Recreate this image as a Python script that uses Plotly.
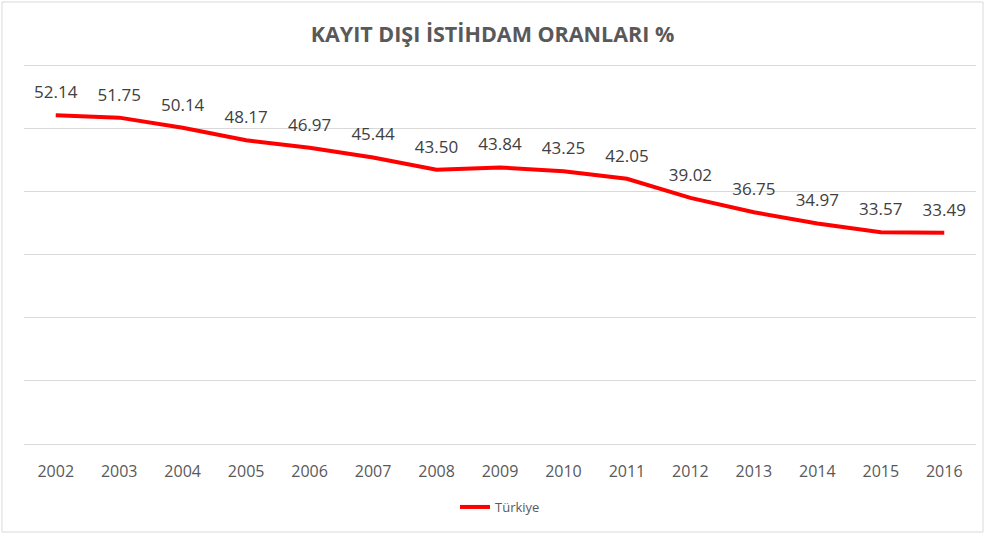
import plotly.graph_objects as go

years = ["2002", "2003", "2004", "2005", "2006", "2007", "2008", "2009",
         "2010", "2011", "2012", "2013", "2014", "2015", "2016"]
turkiye = [52.14, 51.75, 50.14, 48.17, 46.97, 45.44, 43.50, 43.84,
           43.25, 42.05, 39.02, 36.75, 34.97, 33.57, 33.49]
labels = [f"{v:.2f}" for v in turkiye]

W, H = 985, 535
ymax = 62
ml, mr, mt, mb = 24, 9, 53, 91

fig = go.Figure()
fig.add_trace(go.Scatter(
    x=years, y=turkiye, mode="lines", name="Türkiye",
    line=dict(color="#FF0000", width=4),
))
fig.add_trace(go.Scatter(
    x=years, y=turkiye, mode="markers+text", showlegend=False, hoverinfo="skip",
    marker=dict(size=19, color="rgba(0,0,0,0)"),
    text=labels, textposition="top center",
    textfont=dict(family="Open Sans", size=17, color="#404040"),
    cliponaxis=False,
))

pw = W - ml - mr
ph = H - mt - mb
fig.add_shape(type="rect", xref="paper", yref="paper",
              x0=(2 - ml) / pw, x1=(983 - ml) / pw,
              y0=(H - mb - 532) / ph, y1=(H - mb - 2) / ph,
              line=dict(color="#D9D9D9", width=1), fillcolor="rgba(0,0,0,0)")

fig.update_layout(
    width=W, height=H,
    margin=dict(l=ml, r=mr, t=mt, b=mb),
    paper_bgcolor="white", plot_bgcolor="white",
    title=dict(text="<b>KAYIT DIŞI İSTİHDAM ORANLARI %</b>", x=0.5, xanchor="center",
               y=1 - 34 / H, yanchor="middle",
               font=dict(family="Open Sans", size=21.5, color="#595959")),
    xaxis=dict(type="category", showgrid=False, zeroline=False, showline=False,
               ticks="", ticklabelstandoff=16,
               tickfont=dict(family="Open Sans", size=16, color="#595959"),
               range=[-0.5, len(years) - 0.5]),
    yaxis=dict(range=[0, ymax], tickvals=[0, 10, 20, 30, 40, 50, 60],
               showgrid=True, gridcolor="#D9D9D9", gridwidth=1,
               zeroline=True, zerolinecolor="#D9D9D9", zerolinewidth=1,
               showticklabels=False, ticks=""),
    showlegend=True,
    legend=dict(orientation="h", x=0.5, xanchor="center", y=-(507 - (H - mb)) / ph,
                yanchor="middle", itemwidth=30,
                font=dict(family="Open Sans", size=13, color="#595959")),
)

fig.write_html("out.html", config={"displayModeBar": False},
               post_script="document.body.style.margin='0';document.body.style.padding='0';")
